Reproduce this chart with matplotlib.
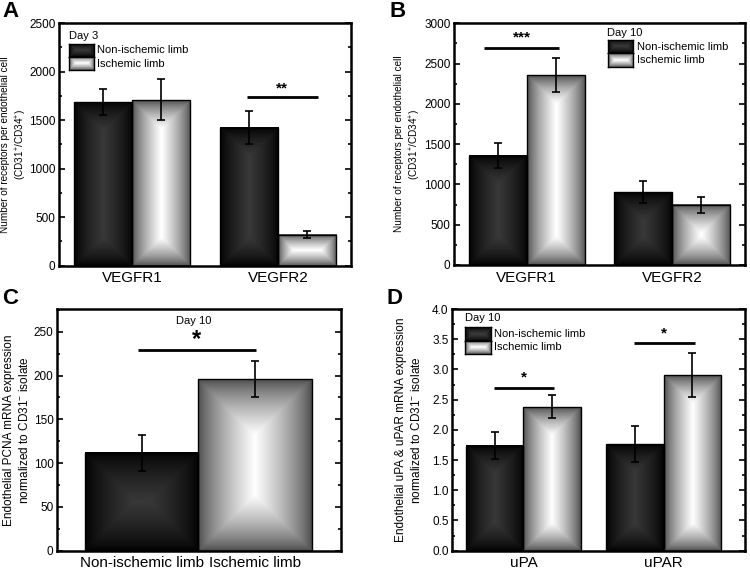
import numpy as np
import matplotlib
matplotlib.use("Agg")
import matplotlib.pyplot as plt
from matplotlib.patches import Rectangle
from matplotlib.ticker import MultipleLocator

plt.rcParams['font.family'] = ['Liberation Sans', 'DejaVu Sans']
plt.rcParams['mathtext.fontset'] = 'custom'
plt.rcParams['mathtext.rm'] = 'Liberation Sans'
plt.rcParams['mathtext.default'] = 'rm'

# ---------------- data ----------------
a_categories = ["VEGFR1", "VEGFR2"]
a_non = [1685, 1423]
a_non_err = [130, 172]
a_isch = [1709, 320]
a_isch_err = [212, 33]

b_categories = ["VEGFR1", "VEGFR2"]
b_non = [1357, 902]
b_non_err = [153, 137]
b_isch = [2358, 745]
b_isch_err = [215, 103]

c_categories = ["Non-ischemic limb", "Ischemic limb"]
c_values = [112, 196]
c_err = [20.5, 21]

d_categories = ["uPA", "uPAR"]
d_non = [1.74, 1.77]
d_non_err = [0.23, 0.30]
d_isch = [2.38, 2.91]
d_isch_err = [0.19, 0.37]

legend_labels = ["Non-ischemic limb", "Ischemic limb"]

DARK = (0.0, 0.22)
LIGHT = (0.28, 1.0)

W, H = 750, 571
fig = plt.figure(figsize=(W / 100, H / 100), dpi=100)


def grad(wpx, hpx, edge, center):
    nx = max(int(round(wpx)), 2)
    ny = max(int(round(hpx)), 2)
    x = np.arange(nx) + 0.5
    y = np.arange(ny) + 0.5
    dx = np.minimum(x, nx - x)
    dy = np.minimum(y, ny - y)
    d = np.minimum(dx[None, :], dy[:, None])
    v = (d / d.max()) ** 0.75
    c = edge + (center - edge) * v
    return np.dstack([c, c, c])


def grad_bar(ax, x, w, h, style):
    x0, x1 = x - w / 2, x + w / 2
    p0 = ax.transData.transform((x0, 0))
    p1 = ax.transData.transform((x1, h))
    img = grad(abs(p1[0] - p0[0]), abs(p1[1] - p0[1]), *style)
    ax.imshow(img, extent=[x0, x1, 0, h], aspect='auto', zorder=2,
              interpolation='bilinear')
    ax.add_patch(Rectangle((x0, 0), w, h, fill=False, ec='black', lw=1.0, zorder=3))


def legend_box(ax, x0, y0, x1, y1, style):
    ia = ax.inset_axes([x0, y0, x1 - x0, y1 - y0])
    bb_w = (x1 - x0) * ax.get_position().width * W
    bb_h = (y1 - y0) * ax.get_position().height * H
    ia.imshow(grad(bb_w, bb_h, *style), aspect='auto', interpolation='bilinear')
    ia.set_xticks([])
    ia.set_yticks([])
    for s in ia.spines.values():
        s.set_linewidth(1.0)


def style_axes(ax, major, minor):
    for s in ax.spines.values():
        s.set_linewidth(1.8)
    ax.yaxis.set_major_locator(MultipleLocator(major))
    ax.yaxis.set_minor_locator(MultipleLocator(minor))
    ax.tick_params(axis='y', which='both', direction='in', right=True, labelsize=8.5,
                   width=1.2, pad=2.5)
    ax.tick_params(axis='y', which='major', length=4)
    ax.tick_params(axis='y', which='minor', length=2.5)
    ax.tick_params(axis='x', which='both', length=0, labelsize=11, pad=4)


def errbars(ax, xs, ys, es):
    ax.errorbar(xs, ys, yerr=es, fmt='none', ecolor='black', elinewidth=1.2,
                capsize=3, capthick=1.2, zorder=4)


def sig(ax, x0, x1, y, ytxt, txt, size):
    ax.plot([x0, x1], [y, y], color='black', lw=2, zorder=5, solid_capstyle='butt')
    ax.text((x0 + x1) / 2, ytxt, txt, ha='center', va='center', fontsize=size,
            fontweight='bold', zorder=5)


def frac(l, t, r, b):
    return [l / W, 1 - b / H, (r - l) / W, (b - t) / H]


# ---------------- Panel A ----------------
axA = fig.add_axes(frac(59, 23, 351, 265.7))
axA.set_xlim(0.5, 2.5)
axA.set_ylim(0, 2500)
xs = np.arange(1, len(a_categories) + 1)
bw = 0.4
for i, x in enumerate(xs):
    grad_bar(axA, x - bw / 2, bw, a_non[i], DARK)
    grad_bar(axA, x + bw / 2, bw, a_isch[i], LIGHT)
errbars(axA, xs - bw / 2, a_non, a_non_err)
errbars(axA, xs + bw / 2, a_isch, a_isch_err)
axA.set_xlim(0.5, 2.5)
axA.set_ylim(0, 2500)
axA.set_xticks(xs)
axA.set_xticklabels(a_categories)
style_axes(axA, 500, 250)
axA.set_ylabel("Number of receptors per endothelial cell\n(CD31$^{+}$/CD34$^{+}$)",
               fontsize=7.2, linespacing=1.3)
axA.yaxis.set_label_coords(-0.104, 0.5)
sig(axA, 1.786, 2.272, 1737, 1830, "**", 11)
axA.text(0.034, 0.946, "Day 3", transform=axA.transAxes, fontsize=8, va='center')
legend_box(axA, 0.034, 0.860, 0.120, 0.915, DARK)
legend_box(axA, 0.034, 0.806, 0.120, 0.860, LIGHT)
axA.text(0.130, 0.888, legend_labels[0], transform=axA.transAxes, fontsize=8, va='center')
axA.text(0.130, 0.833, legend_labels[1], transform=axA.transAxes, fontsize=8, va='center')

# ---------------- Panel B ----------------
axB = fig.add_axes(frac(454, 23.3, 745, 265))
axB.set_xlim(0.5, 2.5)
axB.set_ylim(0, 3000)
xs = np.arange(1, len(b_categories) + 1)
for i, x in enumerate(xs):
    grad_bar(axB, x - bw / 2, bw, b_non[i], DARK)
    grad_bar(axB, x + bw / 2, bw, b_isch[i], LIGHT)
errbars(axB, xs - bw / 2, b_non, b_non_err)
errbars(axB, xs + bw / 2, b_isch, b_isch_err)
axB.set_xlim(0.5, 2.5)
axB.set_ylim(0, 3000)
axB.set_xticks(xs)
axB.set_xticklabels(b_categories)
style_axes(axB, 500, 250)
axB.set_ylabel("Number of receptors per endothelial cell\n(CD31$^{+}$/CD34$^{+}$)",
               fontsize=7.2, linespacing=1.3)
axB.yaxis.set_label_coords(-0.107, 0.5)
sig(axB, 0.706, 1.224, 2690, 2830, "***", 11)
axB.text(0.525, 0.960, "Day 10", transform=axB.transAxes, fontsize=8, va='center')
legend_box(axB, 0.528, 0.876, 0.616, 0.931, DARK)
legend_box(axB, 0.528, 0.821, 0.616, 0.876, LIGHT)
axB.text(0.628, 0.903, legend_labels[0], transform=axB.transAxes, fontsize=8, va='center')
axB.text(0.628, 0.848, legend_labels[1], transform=axB.transAxes, fontsize=8, va='center')

# ---------------- Panel C ----------------
axC = fig.add_axes(frac(57, 309, 341, 550.7))
axC.set_xlim(0.25, 2.76)
axC.set_ylim(0, 276)
xs = np.arange(1, len(c_categories) + 1)
grad_bar(axC, xs[0], 1.0, c_values[0], DARK)
grad_bar(axC, xs[1], 1.0, c_values[1], LIGHT)
errbars(axC, xs, c_values, c_err)
axC.set_xlim(0.25, 2.76)
axC.set_ylim(0, 276)
axC.set_xticks(xs)
axC.set_xticklabels(c_categories)
style_axes(axC, 50, 25)
axC.set_ylabel("Endothelial PCNA mRNA expression\nnormalized to CD31$^{-}$ isolate",
               fontsize=8.5, linespacing=1.3)
axC.yaxis.set_label_coords(-0.09, 0.5)
sig(axC, 0.964, 2.008, 228.8, 241, "*", 17)
axC.text(0.48, 0.95, "Day 10", transform=axC.transAxes, fontsize=8, ha='center', va='center')

# ---------------- Panel D ----------------
axD = fig.add_axes(frac(452, 309, 745, 550.7))
axD.set_xlim(0.49, 2.58)
axD.set_ylim(0, 4.0)
xs = np.arange(1, len(d_categories) + 1)
bw = 0.41
for i, x in enumerate(xs):
    grad_bar(axD, x - bw / 2, bw, d_non[i], DARK)
    grad_bar(axD, x + bw / 2, bw, d_isch[i], LIGHT)
errbars(axD, xs - bw / 2, d_non, d_non_err)
errbars(axD, xs + bw / 2, d_isch, d_isch_err)
axD.set_xlim(0.49, 2.58)
axD.set_ylim(0, 4.0)
axD.set_xticks(xs)
axD.set_xticklabels(d_categories)
style_axes(axD, 0.5, 0.25)
axD.yaxis.set_major_formatter(matplotlib.ticker.FormatStrFormatter('%.1f'))
axD.set_ylabel("Endothelial uPA & uPAR mRNA expression\nnormalized to CD31$^{-}$ isolate",
               fontsize=8.5, linespacing=1.3)
axD.yaxis.set_label_coords(-0.10, 0.5)
sig(axD, 0.79, 1.22, 2.70, 2.87, "*", 11)
sig(axD, 1.79, 2.22, 3.43, 3.60, "*", 11)
axD.text(0.044, 0.962, "Day 10", transform=axD.transAxes, fontsize=8, va='center')
legend_box(axD, 0.044, 0.868, 0.133, 0.924, DARK)
legend_box(axD, 0.044, 0.814, 0.133, 0.868, LIGHT)
axD.text(0.143, 0.896, legend_labels[0], transform=axD.transAxes, fontsize=8, va='center')
axD.text(0.143, 0.841, legend_labels[1], transform=axD.transAxes, fontsize=8, va='center')

# panel letters
for lbl, x, y in [("A", 2, 1), ("B", 389, 1), ("C", 2, 288), ("D", 387, 288)]:
    fig.text(x / W, 1 - y / H, lbl, fontsize=16, fontweight='bold', va='top', ha='left')

fig.savefig("out.png", dpi=100)
